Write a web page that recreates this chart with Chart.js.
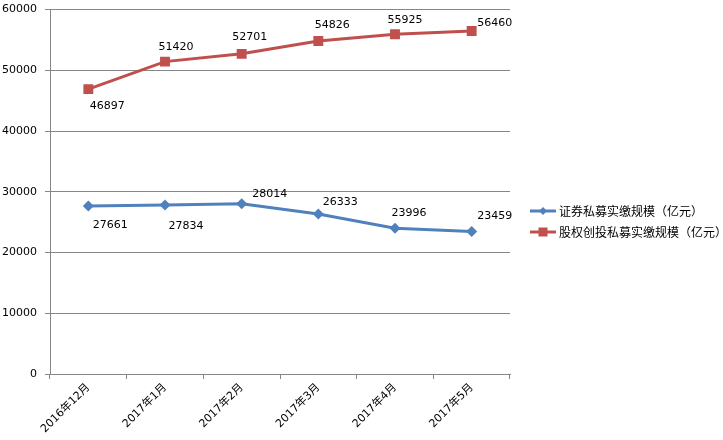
<!DOCTYPE html>
<html>
<head>
<meta charset="utf-8">
<script src="https://cdn.jsdelivr.net/npm/chart.js@4"></script>
<style>
html,body{margin:0;padding:0;background:#fff;}
#wrap{width:723px;height:440px;}
</style>
</head>
<body>
<div id="wrap"><canvas id="c" width="723" height="440"></canvas></div>
<script>
const categories = ["2016年12月","2017年1月","2017年2月","2017年3月","2017年4月","2017年5月"];
const seriesNames = ["证券私募实缴规模（亿元）","股权创投私募实缴规模（亿元）"];
const securitiesValues = [27661, 27834, 28014, 26333, 23996, 23459];
const equityValues = [46897, 51420, 52701, 54826, 55925, 56460];
const yTicks = {min: 0, max: 60000, step: 10000};

// label offsets (style only)
const blueLabelOffsets = [[22,19],[21,21],[28,-10],[22,-12],[14,-15],[23,-15]];
const redLabelOffsets = [[19,17],[11,-14],[8,-17],[14,-16],[10,-14],[23,-8]];

const BLUE = "#4F81BD", RED = "#C0504D", GRID = "#868686";
const numFont = '11px "DejaVu Sans", Verdana, sans-serif';

const labelPlugin = {
  id: 'dlabels',
  afterDatasetsDraw(chart) {
    const ctx = chart.ctx;
    ctx.save();
    ctx.font = numFont;
    ctx.fillStyle = '#000';
    ctx.textAlign = 'center';
    ctx.textBaseline = 'middle';
    chart.data.datasets.forEach((ds, i) => {
      const meta = chart.getDatasetMeta(i);
      const offs = ds._offsets;
      meta.data.forEach((pt, j) => {
        ctx.fillText(String(ds.data[j]), pt.x + offs[j][0], pt.y + offs[j][1]);
      });
    });
    ctx.restore();
  }
};

const legendPlugin = {
  id: 'customLegend',
  afterDraw(chart) {
    const ctx = chart.ctx;
    ctx.save();
    const rows = [211, 232];
    chart.data.datasets.forEach((ds, i) => {
      const y = rows[i];
      ctx.strokeStyle = ds.borderColor;
      ctx.lineWidth = 3;
      ctx.beginPath();
      ctx.moveTo(530, y); ctx.lineTo(556, y);
      ctx.stroke();
      ctx.fillStyle = ds.borderColor;
      if (ds.pointStyle === 'rectRot') {
        ctx.beginPath();
        ctx.moveTo(543, y - 4); ctx.lineTo(547, y); ctx.lineTo(543, y + 4); ctx.lineTo(539, y);
        ctx.closePath(); ctx.fill();
      } else {
        ctx.fillRect(538.5, y - 4.5, 9, 9);
      }
      ctx.fillStyle = '#000';
      ctx.font = '12px "Noto Sans CJK SC", sans-serif';
      ctx.textAlign = 'left';
      ctx.textBaseline = 'middle';
      ctx.fillText(ds.label, 559, y);
    });
    ctx.restore();
  }
};

new Chart(document.getElementById('c'), {
  type: 'line',
  data: {
    labels: categories,
    datasets: [
      {
        label: seriesNames[0],
        data: securitiesValues,
        borderColor: BLUE, backgroundColor: BLUE,
        borderWidth: 3, pointStyle: 'rectRot', pointRadius: 5.5,
        pointBorderWidth: 0, tension: 0, _offsets: blueLabelOffsets
      },
      {
        label: seriesNames[1],
        data: equityValues,
        borderColor: RED, backgroundColor: RED,
        borderWidth: 3, pointStyle: 'rect', pointRadius: 7,
        pointBorderWidth: 0, tension: 0, _offsets: redLabelOffsets
      }
    ]
  },
  options: {
    responsive: false,
    animation: false,
    devicePixelRatio: 1,
    layout: {padding: {top: 9.5, right: 213, left: 0, bottom: 0}},
    plugins: {legend: {display: false}, tooltip: {enabled: false}},
    scales: {
      x: {
        offset: true,
        grid: {display: true, offset: true, drawOnChartArea: false, drawTicks: true, tickLength: 5, color: GRID},
        border: {display: true, color: GRID, width: 1},
        ticks: {
          maxRotation: 45, minRotation: 45, autoSkip: false, color: '#000', padding: 2,
          font: {family: '"DejaVu Sans", "Noto Sans CJK SC", sans-serif', size: 11}
        },
        afterFit(scale) { scale.height = 66; scale.paddingLeft = 0; scale.paddingRight = 0; }
      },
      y: {
        min: yTicks.min, max: yTicks.max,
        grid: {color: GRID, tickLength: 5, drawTicks: true},
        border: {display: true, color: GRID, width: 1},
        ticks: {
          stepSize: yTicks.step, color: '#000', padding: 8,
          font: {family: '"DejaVu Sans", Verdana, sans-serif', size: 11},
          callback: (v) => String(v)
        },
        afterFit(scale) { scale.width = 50; scale.paddingTop = 0; scale.paddingBottom = 0; }
      }
    }
  },
  plugins: [labelPlugin, legendPlugin]
});
</script>
</body>
</html>
